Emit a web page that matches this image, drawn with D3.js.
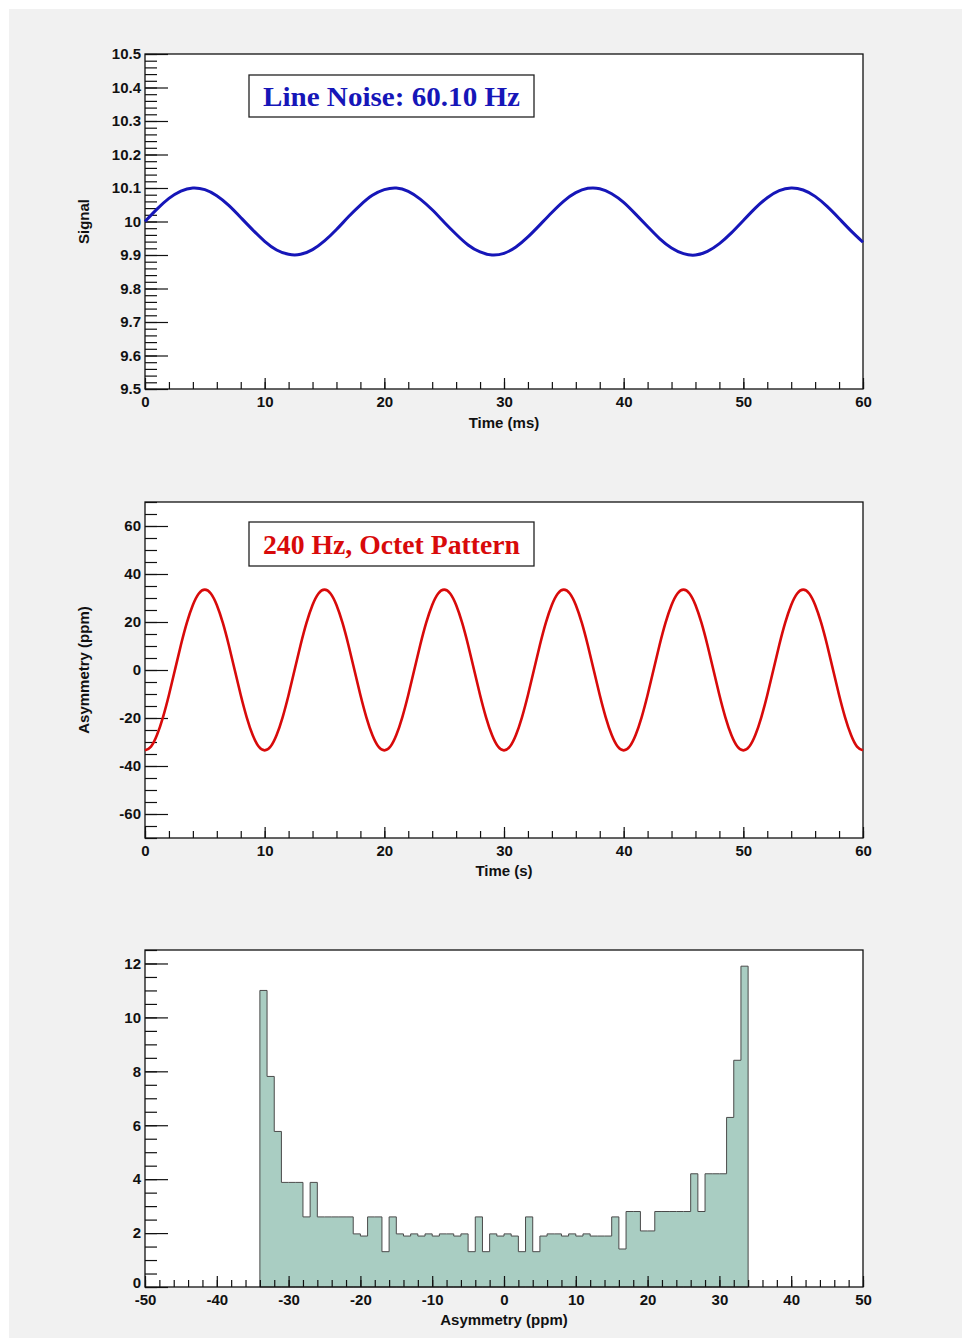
<!DOCTYPE html>
<html>
<head>
<meta charset="utf-8">
<script src="https://cdn.jsdelivr.net/npm/d3@7"></script>
<style>
  body { margin: 0; background: #ffffff; }
  .tick text { font-family: "Liberation Sans", Arial, sans-serif; font-weight: bold; font-size: 15px; fill: #111; }
  .axis-title { font-family: "Liberation Sans", Arial, sans-serif; font-weight: bold; font-size: 15px; fill: #111; }
</style>
</head>
<body>
<script>
/* ===== data ===== */
// top panel: line noise signal vs time (ms), one point per ms
var noiseTime = d3.range(0, 61, 1);
var noiseSignal = [
    10.000, 10.037, 10.069, 10.091, 10.100, 10.095, 10.077, 10.048, 10.012, 9.975,
    9.941, 9.915, 9.902, 9.902, 9.916, 9.942, 9.976, 10.014, 10.049, 10.078,
    10.095, 10.100, 10.090, 10.067, 10.035, 9.998, 9.962, 9.930, 9.909, 9.900,
    9.905, 9.924, 9.954, 9.990, 10.027, 10.061, 10.086, 10.099, 10.098, 10.083,
    10.057, 10.022, 9.985, 9.949, 9.921, 9.904, 9.900, 9.911, 9.934, 9.966,
    10.003, 10.040, 10.071, 10.092, 10.100, 10.094, 10.075, 10.045, 10.009, 9.972,
    9.938
];
// middle panel: asymmetry (ppm) vs time (s), one point per half second
var octetTime = d3.range(0, 60.25, 0.5);
var octetAsym = [
    -33.5, -31.9, -27.1, -19.7, -10.4, 0, 10.4, 19.7, 27.1, 31.9,
    33.5, 31.9, 27.1, 19.7, 10.4, 0, -10.4, -19.7, -27.1, -31.9,
    -33.5, -31.9, -27.1, -19.7, -10.4, 0, 10.4, 19.7, 27.1, 31.9,
    33.5, 31.9, 27.1, 19.7, 10.4, 0, -10.4, -19.7, -27.1, -31.9,
    -33.5, -31.9, -27.1, -19.7, -10.4, 0, 10.4, 19.7, 27.1, 31.9,
    33.5, 31.9, 27.1, 19.7, 10.4, 0, -10.4, -19.7, -27.1, -31.9,
    -33.5, -31.9, -27.1, -19.7, -10.4, 0, 10.4, 19.7, 27.1, 31.9,
    33.5, 31.9, 27.1, 19.7, 10.4, 0, -10.4, -19.7, -27.1, -31.9,
    -33.5, -31.9, -27.1, -19.7, -10.4, 0, 10.4, 19.7, 27.1, 31.9,
    33.5, 31.9, 27.1, 19.7, 10.4, 0, -10.4, -19.7, -27.1, -31.9,
    -33.5, -31.9, -27.1, -19.7, -10.4, 0, 10.4, 19.7, 27.1, 31.9,
    33.5, 31.9, 27.1, 19.7, 10.4, 0, -10.4, -19.7, -27.1, -31.9,
    -33.5
];
// bottom panel: histogram of asymmetry, 68 bins of 1 ppm starting at -34
var histStart = -34;
var histBinWidth = 1;
var histCounts = [
    11.0, 7.81, 5.77, 3.88, 3.88, 3.88, 2.6, 3.88, 2.6, 2.6,
    2.6, 2.6, 2.6, 1.97, 1.89, 2.6, 2.6, 1.31, 2.6, 1.97,
    1.89, 1.97, 1.89, 1.97, 1.89, 1.97, 1.97, 1.89, 1.97, 1.31,
    2.6, 1.31, 1.97, 1.89, 1.97, 1.89, 1.31, 2.6, 1.31, 1.89,
    1.97, 1.97, 1.89, 1.97, 1.89, 1.97, 1.89, 1.89, 1.89, 2.6,
    1.41, 2.8, 2.8, 2.08, 2.08, 2.8, 2.8, 2.8, 2.8, 2.8,
    4.2, 2.8, 4.2, 4.2, 4.2, 6.29, 8.41, 11.9
];

/* ===== constants ===== */
var w = 964;
var h = 1341;
var left = 145;
var right = 863;
var bgColor = "#f1f1f1";
var blueColor = "#1616b8";
var redColor = "#d80a0a";
var histFill = "#a9cdc2";
var histStroke = "#4a4a4a";

// plain hyphen for negative numbers, like the original
var fmtInt = function (d) { return String(Math.round(d)); };
var fmtSignal = function (d) { return d3.format(".3~g")(d); };

var svg = d3.select("body")
    .append("svg")
    .attr("width", w)
    .attr("height", h);

// canvas background
svg.append("rect")
    .attr("x", 9)
    .attr("y", 9)
    .attr("width", 953)
    .attr("height", 1329)
    .attr("fill", bgColor);

/* ===== panels ===== */
// top
var top1 = createPanel(54, 389,
    [0, 60], 10, 2,
    [9.5, 10.5], 0.1, 0.02, fmtSignal,
    "Time (ms)", 428, "Signal", 89);
drawLine(top1, noiseTime, noiseSignal, blueColor, 3);
createTitleBox(249, 75, 285, 42, "Line Noise: 60.10 Hz", blueColor);

// middle
var mid = createPanel(502, 838,
    [0, 60], 10, 2,
    [-70, 70], 20, 5, fmtInt,
    "Time (s)", 876, "Asymmetry (ppm)", 89);
drawLine(mid, octetTime, octetAsym, redColor, 2.6);
createTitleBox(249, 522, 285, 44, "240 Hz, Octet Pattern", redColor);

// bottom
var bot = createPanel(950, 1287,
    [-50, 50], 10, 2,
    [0, 12.5], 2, 0.5, fmtInt,
    "Asymmetry (ppm)", 1325, null, 0);
drawHistogram(bot);
// lift the "0" label a little, as in the original, so it clears "-50"
bot.yAxis.selectAll(".tick text")
    .filter(function (d) { return d === 0; })
    .attr("dy", "0.05em");

/* ===== functions ===== */
function createPanel(top, bottom, xDomain, xMajor, xMinor, yDomain, yMajor, yMinor, yFmt,
                     xTitle, xTitleY, yTitle, yTitleX) {
    var g = svg.append("g");
    g.append("rect")
        .attr("class", "bg")
        .attr("x", left)
        .attr("y", top)
        .attr("width", right - left)
        .attr("height", bottom - top)
        .attr("fill", "#ffffff");

    var xScale = d3.scaleLinear().domain(xDomain).range([left, right]);
    var yScale = d3.scaleLinear().domain(yDomain).range([bottom, top]);

    var eps = 1e-9;
    var xMaj = d3.range(xDomain[0], xDomain[1] + eps, xMajor);
    var xMin = d3.range(xDomain[0], xDomain[1] + eps, xMinor);
    var yMaj = d3.range(Math.ceil(yDomain[0] / yMajor - eps) * yMajor, yDomain[1] + eps, yMajor);
    var yMin = d3.range(Math.ceil(yDomain[0] / yMinor - eps) * yMinor, yDomain[1] + eps, yMinor);

    // minor ticks, pointing into the frame
    g.append("g")
        .attr("transform", "translate(0," + bottom + ")")
        .call(d3.axisBottom(xScale).tickValues(xMin).tickSize(-7).tickFormat(""));
    g.append("g")
        .attr("transform", "translate(" + left + ",0)")
        .call(d3.axisLeft(yScale).tickValues(yMin).tickSize(-12).tickFormat(""));
    // major ticks with labels
    g.append("g")
        .attr("transform", "translate(0," + bottom + ")")
        .call(d3.axisBottom(xScale).tickValues(xMaj).tickSize(-11).tickPadding(7).tickFormat(fmtInt));
    var yAxis = g.append("g")
        .attr("transform", "translate(" + left + ",0)")
        .call(d3.axisLeft(yScale).tickValues(yMaj).tickSize(-23).tickPadding(4).tickFormat(yFmt));
    g.selectAll(".domain").remove();
    g.selectAll(".tick line").attr("stroke", "#111").attr("stroke-width", 1.2);

    // frame
    g.append("rect")
        .attr("class", "frame")
        .attr("x", left)
        .attr("y", top)
        .attr("width", right - left)
        .attr("height", bottom - top)
        .attr("fill", "none")
        .attr("stroke", "#111")
        .attr("stroke-width", 1.3);

    g.append("text")
        .attr("class", "axis-title")
        .attr("x", (left + right) / 2)
        .attr("y", xTitleY)
        .attr("text-anchor", "middle")
        .text(xTitle);
    if (yTitle) {
        g.append("text")
            .attr("class", "axis-title")
            .attr("transform", "translate(" + yTitleX + "," + ((top + bottom) / 2) + ") rotate(-90)")
            .attr("text-anchor", "middle")
            .text(yTitle);
    }
    return {g: g, x: xScale, y: yScale, yAxis: yAxis, top: top, bottom: bottom};
}

function drawLine(panel, xs, ys, color, width) {
    var line = d3.line()
        .x(function (d, i) { return panel.x(xs[i]); })
        .y(function (d) { return panel.y(d); })
        .curve(d3.curveNatural);
    panel.g.append("path")
        .datum(ys)
        .attr("fill", "none")
        .attr("stroke", color)
        .attr("stroke-width", width)
        .attr("stroke-linejoin", "round")
        .attr("d", line);
}

function drawHistogram(panel) {
    var steps = histCounts.map(function (c, i) {
        return {x: histStart + i * histBinWidth, v: c};
    });
    steps.push({x: histStart + histCounts.length * histBinWidth, v: 0});
    var area = d3.area()
        .x(function (d) { return panel.x(d.x); })
        .y0(panel.y(0))
        .y1(function (d) { return panel.y(d.v); })
        .curve(d3.curveStepAfter);
    // draw the bars right above the white plot background, below the ticks
    panel.g.insert("path", ".bg + *")
        .datum(steps)
        .attr("fill", histFill)
        .attr("stroke", histStroke)
        .attr("stroke-width", 1)
        .attr("d", area);
}

function createTitleBox(x, y, bw, bh, label, color) {
    svg.append("rect")
        .attr("x", x)
        .attr("y", y)
        .attr("width", bw)
        .attr("height", bh)
        .attr("fill", "#ffffff")
        .attr("stroke", "#222")
        .attr("stroke-width", 1.3);
    svg.append("text")
        .attr("x", x + 14)
        .attr("y", y + bh / 2 + 10)
        .attr("textLength", 257)
        .attr("lengthAdjust", "spacingAndGlyphs")
        .attr("font-family", "'Liberation Serif', 'Times New Roman', serif")
        .attr("font-weight", "bold")
        .attr("font-size", "28px")
        .attr("fill", color)
        .text(label);
}
</script>
</body>
</html>
